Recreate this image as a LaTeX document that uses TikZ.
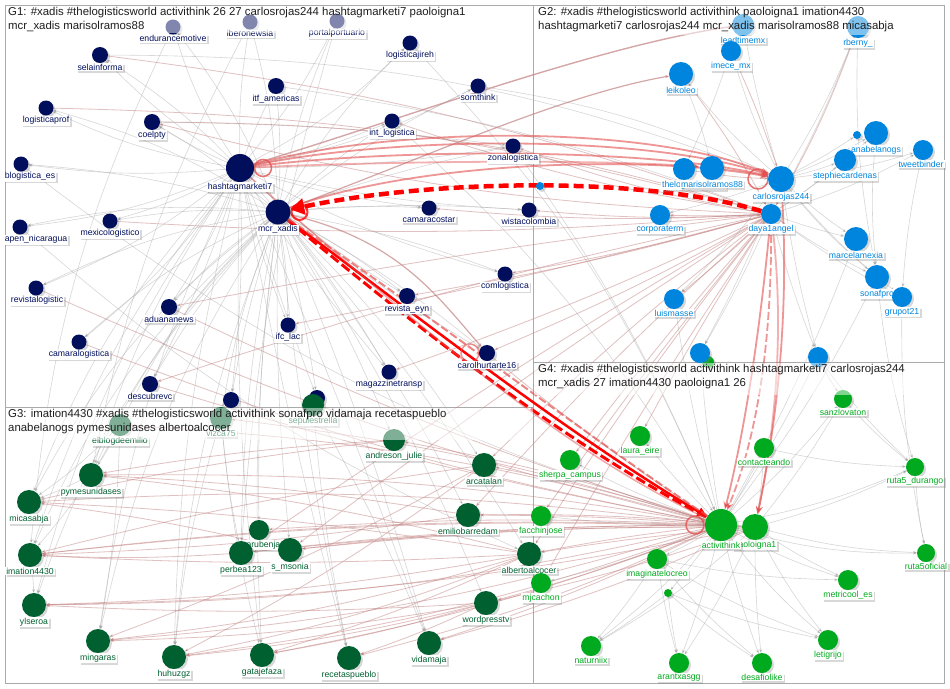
\documentclass[tikz,border=0pt]{standalone}
\usepackage{fontspec}
\setmainfont{Liberation Sans}
\usetikzlibrary{shadows,arrows.meta}
\pgfdeclarelayer{bg}\pgfdeclarelayer{edges}\pgfdeclarelayer{top}
\pgfsetlayers{bg,edges,main,top}
\definecolor{navy}{RGB}{0,14,92}
\definecolor{blu}{RGB}{0,133,222}
\definecolor{dgr}{RGB}{0,96,48}
\definecolor{lgr}{RGB}{0,170,30}
\definecolor{rosy}{RGB}{195,130,130}
\definecolor{redl}{RGB}{228,80,80}
\definecolor{boxc}{RGB}{170,170,170}
\definecolor{ttl}{RGB}{30,30,30}
\newcommand\vtx[8]{\node[vert=#4,fill=#5,label={[lab,text=#6,xshift=#8]below:#7}] (#1) at (#2,#3) {};}
\begin{document}
\begin{tikzpicture}[x=1pt,y=-1pt,
  vert/.style={circle,inner sep=0pt,outer sep=0pt,minimum size=#1pt,label distance=1pt,
    drop shadow={opacity=0.3,shadow xshift=2pt,shadow yshift=-2pt}},
  lab/.style={font=\fontsize{8.7}{10}\selectfont,fill=white,inner sep=1pt,outer sep=0pt,
    drop shadow={opacity=0.3,shadow xshift=1.5pt,shadow yshift=-1.5pt}},
  gedge/.style={draw=black!35,line width=0.6pt,draw opacity=0.45,-{Stealth[length=4pt,width=3pt]}},
  pedge/.style={draw=rosy,line width=0.8pt,draw opacity=0.5,-{Stealth[length=4pt,width=3pt]}},
  rarc/.style={draw=redl,line width=1.8pt,draw opacity=0.6,-{Stealth[length=8pt,width=7pt]}},
  rloop/.style={draw=redl,line width=1.5pt,draw opacity=0.8},
  grpbox/.style={draw=boxc,line width=0.8pt},
  band/.style={fill=white,fill opacity=0.5},
  ttlst/.style={anchor=north west,inner sep=0pt,align=left,text=ttl,font=\fontsize{11.4}{14}\selectfont}
]
\useasboundingbox (0,0) rectangle (950,688);
\begin{pgfonlayer}{bg}
\fill[white] (0,0) rectangle (950,688);
\draw[grpbox] (5,5) rectangle (533,407);
\draw[grpbox] (533,5) rectangle (944,362);
\draw[grpbox] (5,407) rectangle (533,683);
\draw[grpbox] (533,362) rectangle (944,683);
\end{pgfonlayer}

% ---------------- G1 ----------------
\vtx{endu}{173}{27}{15}{navy}{navy}{endurancemotive}{0pt}
\vtx{iber}{250}{22}{15}{navy}{navy}{iberonewsia}{0pt}
\vtx{port}{337}{21}{15}{navy}{navy}{portalportuario}{0pt}
\vtx{jire}{410}{43}{15}{navy}{navy}{logisticajireh}{0pt}
\vtx{sela}{100}{55}{16}{navy}{navy}{selainforma}{0pt}
\vtx{itf}{276}{86}{16}{navy}{navy}{itf\_americas}{0pt}
\vtx{somt}{478}{86}{15}{navy}{navy}{somthink}{0pt}
\vtx{lprof}{46}{108}{15}{navy}{navy}{logisticaprof}{0pt}
\vtx{coel}{152}{122}{16}{navy}{navy}{coelpty}{0pt}
\vtx{intl}{392}{121}{15}{navy}{navy}{int\_logistica}{0pt}
\vtx{zona}{513}{146}{15}{navy}{navy}{zonalogistica}{0pt}
\vtx{blog}{21}{164}{15}{navy}{navy}{blogistica\_es}{9pt}
\vtx{h7}{240}{168}{28}{navy}{navy}{hashtagmarketi7}{0pt}
\vtx{mx}{278}{212}{25}{navy}{navy}{mcr\_xadis}{0pt}
\vtx{cama}{429}{208}{15}{navy}{navy}{camaracostar}{0pt}
\vtx{wist}{529}{210}{15}{navy}{navy}{wistacolombia}{0pt}
\vtx{apen}{20}{227}{15}{navy}{navy}{apen\_nicaragua}{16pt}
\vtx{mexi}{110}{221}{15}{navy}{navy}{mexicologistico}{0pt}
\vtx{revl}{36}{288}{15}{navy}{navy}{revistalogistic}{1pt}
\vtx{coml}{505}{274}{15}{navy}{navy}{comlogistica}{0pt}
\vtx{adua}{169}{307}{16}{navy}{navy}{aduananews}{0pt}
\vtx{reyn}{407}{296}{16}{navy}{navy}{revista\_eyn}{0pt}
\vtx{ifc}{288}{325}{15}{navy}{navy}{ifc\_lac}{0pt}
\vtx{camal}{79}{342}{15}{navy}{navy}{camaralogistica}{0pt}
\vtx{carol}{487}{353}{16}{navy}{navy}{carolhurtarte16}{0pt}
\vtx{magaz}{389}{372}{15}{navy}{navy}{magazzinetransp}{0pt}
\vtx{desc}{150}{384}{16}{navy}{navy}{descubrevc}{0pt}
\node[vert=16,fill=navy] (n1) at (231,400) {};
\node[vert=16,fill=navy] (n2) at (317,398) {};

% ---------------- G2 ----------------
\vtx{leadt}{743}{25}{22}{blu}{blu}{leadtimemx}{0pt}
\vtx{rber}{858}{27}{22}{blu}{blu}{rberny\_}{0pt}
\vtx{imece}{731}{51}{20}{blu}{blu}{imece\_mx}{0pt}
\vtx{leik}{681}{74}{24}{blu}{blu}{leikoleo}{0pt}
\node[vert=8,fill=blu] (sb1) at (857,135) {};
\vtx{anab}{876}{133}{24}{blu}{blu}{anabelanogs}{0pt}
\vtx{twee}{923}{150}{20}{blu}{blu}{tweetbinder}{-2pt}
\vtx{steph}{845}{160}{22}{blu}{blu}{stephiecardenas}{0pt}
\vtx{thelo}{684}{169}{22}{blu}{blu}{thelogisticsworld}{10pt}
\vtx{maris}{712}{168}{24}{blu}{blu}{marisolramos88}{0pt}
\vtx{carl}{781}{179}{26}{blu}{blu}{carlosrojas244}{0pt}
\node[vert=8,fill=blu] (sb2) at (540,186) {};
\vtx{corp}{660}{215}{20}{blu}{blu}{corporaterm}{0pt}
\vtx{daya}{771}{214}{20}{blu}{blu}{daya1angel}{0pt}
\vtx{marc}{856}{239}{24}{blu}{blu}{marcelamexia}{0pt}
\vtx{sonaf}{877}{277}{24}{blu}{blu}{sonafpro}{0pt}
\vtx{grup}{902}{297}{20}{blu}{blu}{grupot21}{0pt}
\vtx{luism}{674}{299}{20}{blu}{blu}{luismasse}{0pt}
\node[vert=12,fill=lgr] (g0) at (708,362) {};
\node[vert=20,fill=blu] (b3) at (700,353) {};
\node[vert=20,fill=blu] (b4) at (818,357) {};

% ---------------- G3 ----------------
\vtx{elbl}{120}{425}{22}{dgr}{dgr}{elblogdeemilio}{0pt}
\vtx{vizc}{221}{418}{22}{dgr}{dgr}{vizca75}{0pt}
\vtx{sepu}{313}{405}{22}{dgr}{dgr}{sepulestrella}{0pt}
\vtx{andr}{394}{440}{22}{dgr}{dgr}{andreson\_julie}{0pt}
\vtx{pyme}{91}{475}{24}{dgr}{dgr}{pymesunidases}{0pt}
\vtx{arca}{484}{465}{24}{dgr}{dgr}{arcatalan}{0pt}
\vtx{mica}{29}{502}{24}{dgr}{dgr}{micasabja}{0pt}
\vtx{emil}{468}{515}{24}{dgr}{dgr}{emiliobarredam}{0pt}
\vtx{prub}{259}{530}{20}{dgr}{dgr}{prubenjam}{8pt}
\vtx{perb}{241}{553}{24}{dgr}{dgr}{perbea123}{0pt}
\vtx{sms}{290}{550}{24}{dgr}{dgr}{s\_msonia}{0pt}
\vtx{imat}{30}{555}{24}{dgr}{dgr}{imation4430}{0pt}
\vtx{albe}{529}{554}{24}{dgr}{dgr}{albertoalcocer}{0pt}
\vtx{word}{486}{603}{24}{dgr}{dgr}{wordpresstv}{0pt}
\vtx{ylse}{34}{605}{24}{dgr}{dgr}{ylseroa}{0pt}
\vtx{ming}{98}{641}{24}{dgr}{dgr}{mingaras}{0pt}
\vtx{vida}{429}{643}{24}{dgr}{dgr}{vidamaja}{0pt}
\vtx{huhu}{174}{657}{24}{dgr}{dgr}{huhuzgz}{0pt}
\vtx{gata}{262}{655}{24}{dgr}{dgr}{gatajefaza}{0pt}
\vtx{rece}{349}{658}{24}{dgr}{dgr}{recetaspueblo}{0pt}

% ---------------- G4 ----------------
\vtx{sanz}{843}{399}{18}{lgr}{lgr}{sanzlovaton}{0pt}
\vtx{laur}{640}{436}{20}{lgr}{lgr}{laura\_eire}{0pt}
\vtx{cont}{764}{448}{20}{lgr}{lgr}{contacteando}{0pt}
\vtx{sher}{570}{460}{20}{lgr}{lgr}{sherpa\_campus}{0pt}
\vtx{rdur}{915}{467}{18}{lgr}{lgr}{ruta5\_durango}{0pt}
\vtx{facc}{541}{516}{20}{lgr}{lgr}{facchinjose}{0pt}
\vtx{mjca}{541}{583}{20}{lgr}{lgr}{mjcachon}{0pt}
\vtx{paol}{755}{527}{26}{lgr}{lgr}{paoloigna1}{0pt}
\vtx{acti}{721}{525}{32}{lgr}{lgr}{activithink}{0pt}
\vtx{r5of}{926}{553}{18}{lgr}{lgr}{ruta5oficial}{0pt}
\vtx{imag}{657}{559}{20}{lgr}{lgr}{imaginatelocreo}{0pt}
\vtx{metr}{848}{580}{20}{lgr}{lgr}{metricool\_es}{0pt}
\node[vert=8,fill=lgr] (sg) at (668,593) {};
\vtx{leti}{828}{640}{20}{lgr}{lgr}{letigrijo}{0pt}
\vtx{natu}{591}{646}{20}{lgr}{lgr}{naturniix}{0pt}
\vtx{aran}{679}{663}{20}{lgr}{lgr}{arantxasgg}{0pt}
\vtx{desa}{762}{663}{20}{lgr}{lgr}{desafiolike}{0pt}

% ---------------- edges ----------------
\begin{pgfonlayer}{edges}
\foreach \s/\t/\b in {h7/endu/8,h7/iber/5,h7/port/-6,h7/jire/-8,h7/sela/6,h7/itf/3,h7/somt/-8,h7/lprof/8,h7/coel/4,h7/intl/-5,h7/zona/-4,h7/blog/6,h7/apen/8,h7/mexi/6,h7/revl/8,h7/adua/6,h7/camal/8,h7/desc/5,h7/ifc/-4,h7/reyn/-6,h7/cama/-5,h7/wist/-5,h7/coml/-6,h7/magaz/-4,h7/carol/-6,h7/n1/4,h7/n2/-2,
 mx/endu/-8,mx/iber/-6,mx/port/6,mx/jire/8,mx/sela/-8,mx/itf/-4,mx/somt/6,mx/lprof/-8,mx/coel/-5,mx/intl/5,mx/zona/4,mx/blog/-6,mx/apen/-8,mx/mexi/-6,mx/revl/-8,mx/adua/-6,mx/camal/-8,mx/desc/-6,mx/ifc/4,mx/reyn/5,mx/cama/4,mx/wist/4,mx/coml/5,mx/magaz/4,mx/carol/5,mx/n1/-4,mx/n2/3,
 mx/elbl/-10,mx/vizc/-6,mx/pyme/-10,mx/mica/-12,mx/imat/-12,mx/ylse/-12,mx/ming/-10,mx/huhu/-8,mx/gata/-5,mx/rece/-3,mx/perb/-5,mx/prub/-4,mx/sms/-3,mx/vida/3,mx/word/5,mx/andr/4,mx/arca/6,mx/emil/5,mx/albe/4,
 h7/pyme/-8,h7/mica/-10,h7/imat/-10,h7/ylse/-10,h7/ming/-8,h7/huhu/-6,h7/gata/-4,h7/rece/-2,h7/vida/2,
 endu/imat/-10,iber/pyme/-8,port/perb/-6,jire/acti/10,somt/carl/8,itf/daya/6,intl/acti/8,zona/acti/6,sela/carl/10,coel/zona/3,blog/acti/-10,apen/albe/-8,
 carl/leik/5,carl/imece/4,carl/leadt/3,carl/rber/-5,carl/anab/-4,carl/twee/-5,carl/steph/-3,carl/marc/-4,carl/sonaf/-5,carl/grup/-5,carl/corp/3,carl/luism/4,carl/b3/3,carl/b4/-3,carl/sb1/-3,
 daya/marc/-3,daya/sonaf/-4,daya/grup/-4,daya/steph/-3,daya/anab/-4,daya/twee/-5,daya/b4/-3,daya/b3/3,daya/rber/-4,leik/maris/4,imece/thelo/3,rber/sonaf/-6,anab/sonaf/-5,twee/grup/-4,
 acti/laur/3,acti/cont/-3,acti/sher/4,acti/sanz/-5,acti/rdur/-6,acti/r5of/-8,acti/imag/3,acti/metr/-5,acti/leti/-6,acti/natu/5,acti/aran/3,acti/desa/-3,acti/sg/2,acti/facc/3,acti/mjca/4,acti/b3/2,acti/b4/-3,acti/luism/3,acti/marc/-4,acti/sonaf/-5,
 paol/leti/-5,paol/desa/-3,paol/aran/4,paol/metr/-4,paol/r5of/-6,paol/rdur/-5,paol/natu/6,paol/cont/-3,paol/sanz/-4,
 imag/natu/4,imag/aran/-3,imag/desa/-5,imag/leti/-6,imag/metr/-5,sg/natu/3,sg/aran/-2,sg/desa/-4,sg/leti/-5,sanz/rdur/-4,cont/rdur/-5,rdur/r5of/-4,b4/sanz/-4,b4/rdur/-5,grup/r5of/-6,sonaf/rdur/-5,
 elbl/pyme/4,elbl/mica/5,elbl/imat/6,vizc/perb/-3,vizc/gata/-4,sepu/rece/-3,sepu/vida/3,pyme/mica/3,imat/ylse/3,vizc/huhu/-5,elbl/ming/4}
 {\draw[gedge] (\s) to[bend left=\b] (\t);}
\foreach \s/\t/\b in {daya/zona/5,daya/wist/4,daya/cama/4,daya/coml/3,daya/reyn/3,daya/carol/3,daya/magaz/3,daya/ifc/2,daya/intl/5,daya/corp/2,daya/luism/2,daya/arca/-3,daya/emil/-3,daya/sms/-2,daya/perb/-2,daya/albe/-3,daya/facc/-2,daya/mjca/-2,daya/sher/-2,daya/laur/-2,daya/coel/6,daya/desc/-3,daya/adua/-2,
 acti/andr/-4,acti/arca/-3,acti/emil/-2,acti/albe/-2,acti/word/3,acti/vida/4,acti/rece/5,acti/gata/5,acti/huhu/6,acti/ming/6,acti/ylse/6,acti/imat/-4,acti/mica/-5,acti/pyme/-5,acti/elbl/-6,acti/vizc/-5,acti/sms/-3,acti/perb/-3,acti/prub/-3,
 paol/emil/-3,paol/albe/-2,paol/sms/-3,paol/perb/-3,paol/imat/-4,paol/ylse/5,paol/word/3,paol/vida/4,
 albe/mica/-3,albe/imat/3,albe/ylse/4,albe/pyme/-4,albe/ming/5,albe/huhu/5,albe/gata/4,emil/pyme/-3,emil/imat/3,arca/imat/-3,arca/ming/4,arca/huhu/4,word/ylse/3,word/ming/4,word/huhu/4,word/gata/3,word/rece/3,andr/pyme/-3,andr/mica/-3,perb/imat/3,sms/mica/-3,
 leik/daya/4,imece/carl/3,rber/daya/5,maris/carl/3,thelo/carl/-4,coel/daya/8,sela/daya/6,lprof/daya/7,mexi/daya/-4,revl/acti/-5,adua/acti/-4,camal/acti/-5,desc/acti/-3,carol/acti/-3}
 {\draw[pedge] (\s) to[bend left=\b] (\t);}
% long pink arcs
\draw[pedge,line width=1.4pt,draw opacity=0.7] (h7) .. controls (400,120) and (600,45) .. (leadt);
\draw[pedge,line width=1.2pt,draw opacity=0.7] (mx) .. controls (420,160) and (560,95) .. (leik);
\draw[pedge,line width=1.2pt,draw opacity=0.7] (mx) .. controls (400,240) and (440,300) .. (carol);
% red arcs hashtagmarketi7 / mcr_xadis -> carlosrojas244
\draw[rarc] (h7) .. controls (400,135) and (650,135) .. (carl);
\draw[rarc] (h7) .. controls (400,125) and (650,125) .. (carl);
\draw[rarc] (h7) .. controls (400,148) and (650,148) .. (carl);
\draw[rarc] (mx) .. controls (420,160) and (650,155) .. (carl);
\draw[rarc,draw opacity=0.45] (h7) .. controls (420,160) and (620,160) .. (maris);
% red dashed thick daya1angel -> mcr_xadis
\draw[draw=red,line width=4.5pt,dash pattern=on 10pt off 5pt,-{Triangle[length=14pt,width=16pt]}] (daya) .. controls (640,175) and (430,180) .. (mx);
% mcr_xadis -> activithink
\draw[draw=red,line width=3pt,dash pattern=on 10pt off 4pt] (mx) .. controls (420,330) and (560,440) .. (acti);
\draw[draw=red,line width=2.5pt,-{Triangle[length=10pt,width=9pt]}] (mx) .. controls (426,323) and (566,433) .. (acti);
\draw[draw=redl,line width=2pt,draw opacity=0.7,dash pattern=on 8pt off 3pt] (mx) .. controls (432,316) and (575,428) .. (acti);
\draw[draw=redl,line width=1.5pt,draw opacity=0.5] (h7) .. controls (410,320) and (560,450) .. (acti);
% daya1angel / carlosrojas244 -> activithink / paoloigna1
\draw[rarc] (daya) .. controls (760,330) and (745,430) .. (acti);
\draw[rarc,dash pattern=on 8pt off 3pt] (daya) .. controls (772,330) and (760,430) .. (acti);
\draw[rarc] (carl) .. controls (790,320) and (775,430) .. (paol);
\draw[rarc,draw opacity=0.45] (daya) .. controls (785,330) and (775,430) .. (paol);
% self loops
\draw[rloop] ([xshift=9pt]h7.east) circle (8.5);
\draw[rloop,draw=red,line width=2pt] ([xshift=9pt]mx.east) circle (8);
\draw[rloop] ([xshift=-10pt]carl.west) circle (10);
\draw[rloop,draw opacity=0.6] ([xshift=-9pt]carol.west) circle (9);
\draw[rloop] ([xshift=-10pt]acti.west) circle (9);
\end{pgfonlayer}

% ---------------- headers ----------------
\begin{pgfonlayer}{top}
\fill[band] (5.5,5.5) rectangle (532.5,33);
\fill[band] (533.5,5.5) rectangle (943.5,35);
\fill[band] (5.5,407.5) rectangle (532.5,440);
\fill[band] (533.5,362.5) rectangle (943.5,395);
\node[ttlst] (t1) at (8,7.5) {G1: \#xadis \#thelogisticsworld activithink 26 27 carlosrojas244 hashtagmarketi7 paoloigna1\\mcr\_xadis marisolramos88};
\node[ttlst] (t2) at (538,7.5) {G2: \#xadis \#thelogisticsworld activithink paoloigna1 imation4430\\hashtagmarketi7 carlosrojas244 mcr\_xadis marisolramos88 micasabja};
\node[ttlst] (t3) at (8,409.5) {G3: imation4430 \#xadis \#thelogisticsworld activithink sonafpro vidamaja recetaspueblo\\anabelanogs pymesunidases albertoalcocer};
\node[ttlst] (t4) at (538,364.5) {G4: \#xadis \#thelogisticsworld activithink hashtagmarketi7 carlosrojas244\\mcr\_xadis 27 imation4430 paoloigna1 26};
\end{pgfonlayer}
\end{tikzpicture}
\end{document}
